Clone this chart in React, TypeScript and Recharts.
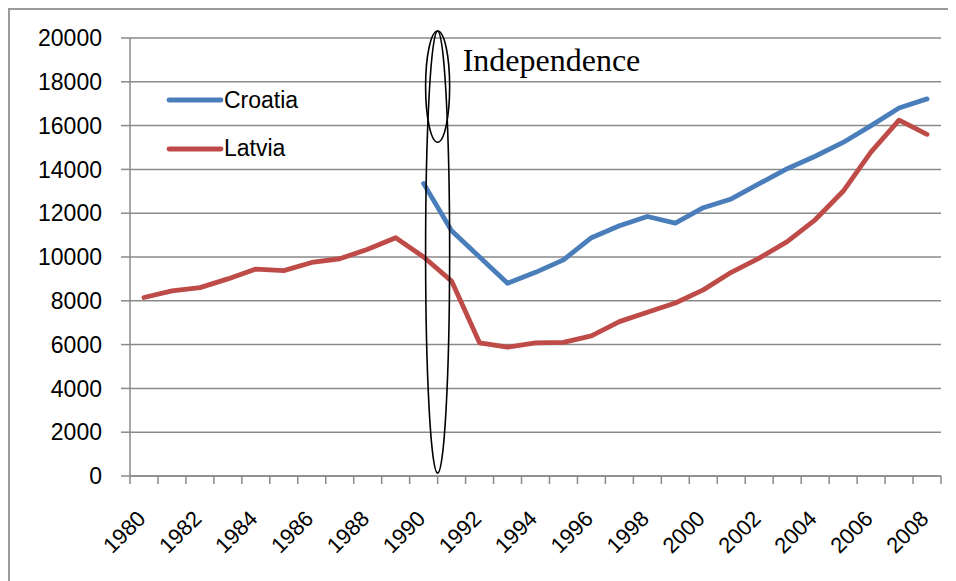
import React from "react";
import {
  CartesianGrid,
  Legend,
  Line,
  LineChart,
  ReferenceArea,
  XAxis,
  YAxis,
} from "recharts";

// GDP per capita, Croatia vs Latvia, 1980–2008
const years = [
  1980, 1981, 1982, 1983, 1984, 1985, 1986, 1987, 1988, 1989,
  1990, 1991, 1992, 1993, 1994, 1995, 1996, 1997, 1998, 1999,
  2000, 2001, 2002, 2003, 2004, 2005, 2006, 2007, 2008,
];
const croatia = [
  null, null, null, null, null, null, null, null, null, null,
  13350, 11200, 10000, 8800, 9300, 9870, 10880, 11430, 11850, 11550,
  12250, 12650, 13350, 14030, 14600, 15230, 16000, 16800, 17220,
];
const latvia = [
  8150, 8450, 8600, 9000, 9450, 9380, 9750, 9920, 10350, 10880,
  10000, 8900, 6080, 5880, 6080, 6100, 6400, 7050, 7480, 7900,
  8500, 9300, 9950, 10700, 11700, 13000, 14800, 16250, 15600,
];
const yTicks = [0, 2000, 4000, 6000, 8000, 10000, 12000, 14000, 16000, 18000, 20000];
const labelYears = [1980, 1982, 1984, 1986, 1988, 1990, 1992, 1994, 1996, 1998, 2000, 2002, 2004, 2006, 2008];

// "Independence" marks around the 1990/1991 boundary
const indepX = [1990.07, 1990.93];
const bigOval = [130, 20320];
const smallOval = [15240, 20320];

const data = years.map((year, i) => ({ year, Croatia: croatia[i], Latvia: latvia[i] }));
const boundaries = [...years.map((y) => y - 0.5), years[years.length - 1] + 0.5];
const xTicks = [...boundaries, ...labelYears];

const BLUE = "#4A7EBB";
const RED = "#BE4B48";
const GRID = "#8a8a8a";
const SANS = "'Liberation Sans', Arial, sans-serif";

const XTick = ({ x, y, payload }: any) => {
  const v = payload.value;
  if (!Number.isInteger(v)) {
    return <line x1={x} x2={x} y1={y} y2={y + 8} stroke={GRID} strokeWidth={1.5} />;
  }
  const tx = x + 3;
  const ty = y + 44;
  return (
    <text x={tx} y={ty} transform={`rotate(-45 ${tx} ${ty})`} textAnchor="end" fontFamily={SANS} fontSize={22} fill="#000">
      {v}
    </text>
  );
};

const Oval = ({ x, y, width, height }: any) => (
  <ellipse cx={x + width / 2} cy={y + height / 2} rx={width / 2} ry={height / 2} fill="none" stroke="#000" strokeWidth={1.6} />
);

const SmallOval = (props: any) => (
  <g>
    <Oval {...props} />
    <text x={props.x + props.width + 13} y={props.y + 40} fontFamily="'Liberation Serif', 'Times New Roman', serif" fontSize={32} fill="#000">
      Independence
    </text>
  </g>
);

const renderLegend = ({ payload }: any) => (
  <div>
    {(payload || []).map((e: any) => (
      <div key={e.value} style={{ display: "flex", alignItems: "center", height: 48.6 }}>
        <svg width={58} height={10} style={{ display: "block" }}>
          <line x1={3} y1={5} x2={55} y2={5} stroke={e.color} strokeWidth={4.8} strokeLinecap="round" />
        </svg>
        <span style={{ fontFamily: SANS, fontSize: 23, color: "#000", lineHeight: 1 }}>{e.value}</span>
      </div>
    ))}
  </div>
);

export default function App() {
  return (
    <div style={{ width: 946, height: 571, borderTop: "2px solid #9a9a9a", borderLeft: "2px solid #9a9a9a", background: "#fff" }}>
      <LineChart width={946} height={571} data={data} margin={{ top: 28, right: 15, left: 0, bottom: 5 }}>
        <CartesianGrid vertical={false} stroke={GRID} strokeWidth={1.5} />
        <XAxis
          dataKey="year"
          type="number"
          domain={[1979.5, 2008.5]}
          ticks={xTicks}
          interval={0}
          tick={<XTick />}
          tickLine={false}
          tickSize={0}
          tickMargin={0}
          height={100}
          axisLine={{ stroke: GRID, strokeWidth: 1.5 }}
        />
        <YAxis
          domain={[0, 20000]}
          ticks={yTicks}
          interval={0}
          width={120}
          tickSize={9}
          tickMargin={19}
          tickLine={{ stroke: GRID, strokeWidth: 1.5 }}
          axisLine={{ stroke: GRID, strokeWidth: 1.5 }}
          tick={{ fontFamily: SANS, fontSize: 23, fill: "#000" }}
        />
        <Legend
          layout="vertical"
          align="center"
          verticalAlign="middle"
          content={renderLegend}
          wrapperStyle={{ top: 66, left: 156, width: 140 }}
        />
        <Line dataKey="Croatia" stroke={BLUE} strokeWidth={4.8} dot={false} strokeLinejoin="round" strokeLinecap="round" isAnimationActive={false} />
        <Line dataKey="Latvia" stroke={RED} strokeWidth={4.8} dot={false} strokeLinejoin="round" strokeLinecap="round" isAnimationActive={false} />
        <ReferenceArea x1={indepX[0]} x2={indepX[1]} y1={bigOval[0]} y2={bigOval[1]} ifOverflow="visible" shape={<Oval />} zIndex={600} />
        <ReferenceArea x1={indepX[0]} x2={indepX[1]} y1={smallOval[0]} y2={smallOval[1]} ifOverflow="visible" shape={<SmallOval />} zIndex={600} />
      </LineChart>
    </div>
  );
}
